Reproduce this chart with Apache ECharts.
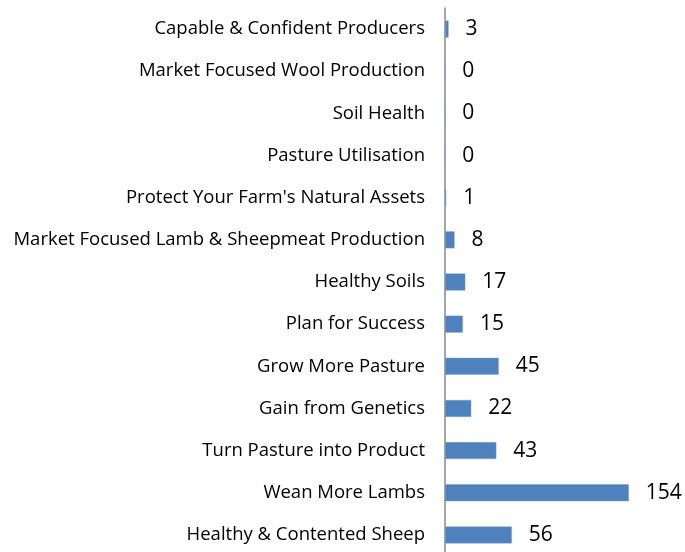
<!DOCTYPE html>
<html><head><meta charset="utf-8">
<script src="https://cdn.jsdelivr.net/npm/echarts@6/dist/echarts.min.js"></script>
<style>html,body{margin:0;padding:0;background:#fff;overflow:hidden}#c{width:685px;height:562px}</style>
</head><body><div id="c"></div>
<script>
const categories = ["Healthy & Contented Sheep","Wean More Lambs","Turn Pasture into Product","Gain from Genetics","Grow More Pasture","Plan for Success","Healthy Soils","Market Focused Lamb & Sheepmeat Production","Protect Your Farm's Natural Assets","Pasture Utilisation","Soil Health","Market Focused Wool Production","Capable & Confident Producers"];
const values = [56,154,43,22,45,15,17,8,1,0,0,0,3];
const chart = echarts.init(document.getElementById('c'));
chart.setOption({
  animation:false,
  grid:{left:445, top:8, height:548, width:191, containLabel:false},
  xAxis:{type:'value', min:0, max:160, show:false},
  yAxis:{type:'category', data:categories,
    axisLine:{show:true, lineStyle:{color:'#888888', width:1.5}},
    axisTick:{show:false},
    axisLabel:{margin:20, color:'#000', fontSize:18.5, fontFamily:'Open Sans'}},
  series:[{type:'bar', data:values, barWidth:17,
    itemStyle:{color:'#4F81BD', borderColor:'#7EA3D1', borderWidth:0.5},
    label:{show:true, position:'right', distance:17, color:'#000', fontSize:21, fontFamily:'Open Sans'}}]
});
</script></body></html>
